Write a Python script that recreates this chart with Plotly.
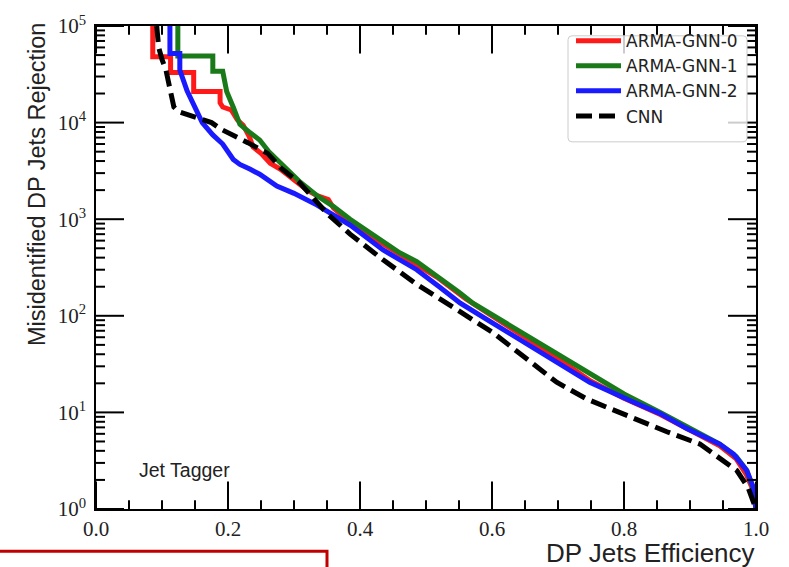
import math
import plotly.graph_objects as go

# ---------------- data ----------------
gnn0_x = [0.086, 0.086, 0.113, 0.113, 0.148, 0.148, 0.188, 0.188, 0.192, 0.205, 0.214, 0.223, 0.232, 0.238,
          0.250, 0.264, 0.279, 0.300, 0.320, 0.335, 0.345, 0.352, 0.360, 0.385, 0.420, 0.460, 0.517, 0.560,
          0.600, 0.650, 0.700, 0.750, 0.800, 0.855, 0.900, 0.945, 0.970, 0.985, 0.995, 1.000]
gnn0_y = [1e5, 4.8e4, 4.8e4, 3.3e4, 3.3e4, 2.1e4, 2.1e4, 1.6e4, 1.45e4, 1.35e4, 1.07e4, 9.4e3, 7.2e3, 5.6e3,
          4.8e3, 3.8e3, 3.3e3, 2.6e3, 2.0e3, 1.75e3, 1.65e3, 1.6e3, 1.3e3, 930, 640, 430, 250, 150,
          100, 60, 36, 21, 14, 9.5, 6.5, 4.5, 3.3, 2.3, 1.6, 1.0]

gnn1_x = [0.124, 0.124, 0.177, 0.177, 0.192, 0.198, 0.208, 0.218, 0.232, 0.248, 0.262, 0.274, 0.290, 0.310,
          0.335, 0.360, 0.385, 0.410, 0.435, 0.460, 0.486, 0.520, 0.550, 0.571, 0.620, 0.670, 0.720, 0.760,
          0.800, 0.855, 0.900, 0.945, 0.970, 0.986, 0.996, 1.000]
gnn1_y = [1e5, 4.9e4, 4.9e4, 3.4e4, 3.4e4, 2.1e4, 1.44e4, 9.6e3, 8.0e3, 6.6e3, 5.0e3, 4.2e3, 3.2e3, 2.4e3,
          1.75e3, 1.35e3, 1.0e3, 770, 580, 450, 364, 250, 175, 135, 85, 52, 32, 22,
          15.5, 10, 6.8, 4.7, 3.5, 2.5, 1.6, 1.0]

gnn2_x = [0.112, 0.112, 0.127, 0.127, 0.138, 0.150, 0.161, 0.177, 0.192, 0.208, 0.218, 0.233, 0.248, 0.274,
          0.300, 0.335, 0.360, 0.385, 0.435, 0.486, 0.520, 0.552, 0.600, 0.650, 0.700, 0.748, 0.814, 0.855,
          0.895, 0.945, 0.966, 0.986, 0.996, 1.000]
gnn2_y = [1e5, 5.2e4, 5.2e4, 3.5e4, 2.13e4, 1.43e4, 1.0e4, 7.45e3, 6.0e3, 4.15e3, 3.69e3, 3.3e3, 2.92e3, 2.2e3,
          1.85e3, 1.4e3, 1.1e3, 870, 480, 300, 200, 135, 85, 52, 32, 20.5, 12.8, 9.7,
          6.8, 4.7, 3.7, 2.5, 1.67, 1.0]

cnn_x = [0.092, 0.095, 0.100, 0.106, 0.110, 0.114, 0.118, 0.125, 0.140, 0.160, 0.175, 0.190, 0.210, 0.230,
         0.260, 0.280, 0.309, 0.330, 0.350, 0.385, 0.435, 0.486, 0.517, 0.560, 0.600, 0.650, 0.698, 0.744,
         0.814, 0.865, 0.915, 0.945, 0.971, 0.988, 1.000]
cnn_y = [1e5, 6e4, 4.5e4, 3.5e4, 2.6e4, 1.9e4, 1.45e4, 1.3e4, 1.2e4, 1.1e4, 1.0e4, 8.5e3, 7.3e3, 6.2e3,
         4.8e3, 3.4e3, 2.36e3, 1.6e3, 1.15e3, 700, 380, 212, 157, 100, 68, 37, 20.5, 13.7,
         8.6, 6.3, 4.7, 3.4, 2.5, 1.67, 1.0]

series_names = ["ARMA-GNN-0", "ARMA-GNN-1", "ARMA-GNN-2", "CNN"]
x_ticks = [0.0, 0.2, 0.4, 0.6, 0.8, 1.0]
x_ticktext = ["0.0", "0.2", "0.4", "0.6", "0.8", "1.0"]
x_minor = [0.05, 0.1, 0.15, 0.25, 0.3, 0.35, 0.45, 0.5, 0.55, 0.65, 0.7, 0.75, 0.85, 0.9, 0.95]
y_ticks = [1, 10, 100, 1000, 10000, 100000]
y_ticktext = ["10<sup>0</sup>", "10<sup>1</sup>", "10<sup>2</sup>", "10<sup>3</sup>",
              "10<sup>4</sup>", "10<sup>5</sup>"]
y_minor = [m * d for d in (1, 10, 100, 1000, 10000) for m in range(2, 10)]

# ---------------- figure ----------------
fig = go.Figure()
styles = [
    dict(color="#ff1a1a", width=5),
    dict(color="#1a7a1a", width=5),
    dict(color="#1a1aff", width=5),
    dict(color="#000000", width=5, dash="16px,7px"),
]
for name, xs, ys, st in zip(series_names, [gnn0_x, gnn1_x, gnn2_x, cnn_x],
                            [gnn0_y, gnn1_y, gnn2_y, cnn_y], styles):
    fig.add_trace(go.Scatter(x=xs, y=ys, mode="lines", name=name, line=st))

W, H = 789, 567
L, R, T, B = 96, 33, 17, 58
pw, ph = W - L - R, H - T - B
X_RANGE = [0, 1]
Y_RANGE = [0, 5]  # log10 range of the y axis

serif = "Liberation Serif, serif"
sans = "Liberation Sans, Arial, sans-serif"

fig.update_layout(
    width=W, height=H,
    margin=dict(l=L, r=R, t=T, b=B),
    paper_bgcolor="white", plot_bgcolor="white",
    showlegend=True,
    legend=dict(
        x=(571 - L) / pw, y=1.006, xanchor="left", yanchor="top",
        bgcolor="rgba(0,0,0,0)", borderwidth=0,
        font=dict(family="DejaVu Sans, sans-serif", size=17, color="#222222"),
        itemwidth=45,
    ),
    xaxis=dict(
        range=X_RANGE, tickmode="array", tickvals=x_ticks, ticktext=x_ticktext, ticks="",
        showline=True, linecolor="black", linewidth=1.5, mirror=True, showgrid=False, zeroline=False,
        tickfont=dict(family=serif, size=21, color="#222222"),
    ),
    yaxis=dict(
        type="log", range=Y_RANGE, tickmode="array", tickvals=y_ticks, ticktext=y_ticktext, ticks="",
        showline=True, linecolor="black", linewidth=1.5, mirror=True, showgrid=False, zeroline=False,
        tickfont=dict(family=serif, size=21, color="#222222"), ticklabelstandoff=4,
    ),
)


def x_frac(v):
    return (v - X_RANGE[0]) / (X_RANGE[1] - X_RANGE[0])


def y_frac(v):
    return (math.log10(v) - Y_RANGE[0]) / (Y_RANGE[1] - Y_RANGE[0])


# inward tick marks on all four sides, at the axes' tick values (plot-area fractions)
tick_line = dict(color="#000000", width=2)
major_len, minor_len = 28, 9
for vals, ln in ((x_ticks, major_len), (x_minor, minor_len)):
    f = ln / ph
    for v in vals:
        p = x_frac(v)
        fig.add_shape(type="line", xref="paper", yref="paper", x0=p, x1=p, y0=0, y1=f,
                      line=tick_line, layer="above")
        fig.add_shape(type="line", xref="paper", yref="paper", x0=p, x1=p, y0=1, y1=1 - f,
                      line=tick_line, layer="above")
for vals, ln in ((y_ticks, major_len), (y_minor, minor_len)):
    f = ln / pw
    for v in vals:
        p = y_frac(v)
        fig.add_shape(type="line", xref="paper", yref="paper", x0=0, x1=f, y0=p, y1=p,
                      line=tick_line, layer="above")
        fig.add_shape(type="line", xref="paper", yref="paper", x0=1, x1=1 - f, y0=p, y1=p,
                      line=tick_line, layer="above")

# legend frame (semi-transparent, rounded corners)
bx0, bx1 = (568 - L) / pw, (747 - L) / pw
by1, by0 = (H - B - 27) / ph, (H - B - 135) / ph
rx, ry = 4 / pw, 4 / ph
frame = (f"M {bx0 + rx},{by1} L {bx1 - rx},{by1} Q {bx1},{by1} {bx1},{by1 - ry} "
         f"L {bx1},{by0 + ry} Q {bx1},{by0} {bx1 - rx},{by0} L {bx0 + rx},{by0} "
         f"Q {bx0},{by0} {bx0},{by0 + ry} L {bx0},{by1 - ry} Q {bx0},{by1} {bx0 + rx},{by1} Z")
fig.add_shape(type="path", xref="paper", yref="paper", path=frame,
              fillcolor="rgba(255,255,255,0.8)", line=dict(color="#cccccc", width=1), layer="above")

fig.add_annotation(text="DP Jets Efficiency", xref="paper", yref="paper",
                   x=1.0015, y=(H - B - 553.5) / ph, xanchor="right", yanchor="middle",
                   showarrow=False, font=dict(family=sans, size=26, color="#222222"))
fig.add_annotation(text="Misidentified DP Jets Rejection", xref="paper", yref="paper",
                   x=(37 - L) / pw, y=(H - B - 11) / ph, xanchor="center", yanchor="top",
                   textangle=-90, showarrow=False, font=dict(family=sans, size=23.5, color="#222222"))
fig.add_annotation(text="Jet Tagger", xref="paper", yref="paper",
                   x=(137 - L) / pw, y=(H - B - 469) / ph, xanchor="left", yanchor="middle",
                   showarrow=False, font=dict(family=sans, size=19.5, color="#222222"))

# red highlight box from the slide (overlay)
fig.add_shape(type="rect", xref="paper", yref="paper",
              x0=(-10 - L) / pw, x1=(327 - L) / pw,
              y0=(H - B - 552) / ph, y1=(H - B - 600) / ph,
              line=dict(color="#c00000", width=3), fillcolor="rgba(0,0,0,0)", layer="above")

fig.write_html("out.html")
